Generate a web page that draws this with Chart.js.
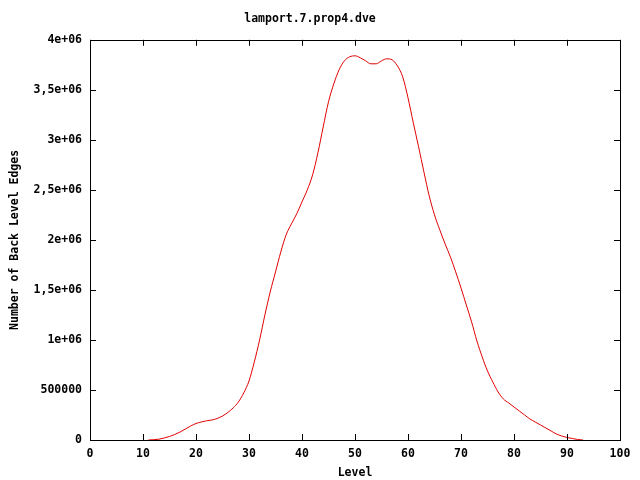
<!DOCTYPE html>
<html>
<head>
<meta charset="utf-8">
<script src="https://cdn.jsdelivr.net/npm/chart.js@4/dist/chart.umd.min.js"></script>
<style>
html,body{margin:0;padding:0;background:#fff;}
#wrap{width:640px;height:480px;}
</style>
</head>
<body>
<div id="wrap"><canvas id="c" width="640" height="480"></canvas></div>
<script>
const chartTitle = "lamport.7.prop4.dve";
const xTitle = "Level";
const yTitle = "Number of Back Level Edges";
const levels = [11,12,13,14,15,16,17,18,19,20,21,22,23,24,25,26,27,28,29,30,31,32,33,34,35,36,37,38,39,40,41,42,43,44,45,46,47,48,49,50,51,52,53,54,55,56,57,58,59,60,61,62,63,64,65,66,67,68,69,70,71,72,73,74,75,76,77,78,79,80,81,82,83,84,85,86,87,88,89,90,91,92,93];
const edges = [0,3000,8000,20000,35000,55000,80000,110000,140000,165000,180000,192000,200000,215000,240000,275000,320000,380000,470000,590000,780000,1000000,1250000,1480000,1680000,1880000,2050000,2160000,2260000,2380000,2500000,2650000,2870000,3130000,3380000,3560000,3700000,3790000,3830000,3840000,3820000,3790000,3760000,3760000,3790000,3810000,3800000,3740000,3630000,3420000,3170000,2930000,2680000,2440000,2250000,2100000,1960000,1830000,1680000,1520000,1350000,1180000,990000,830000,690000,580000,480000,410000,370000,330000,290000,250000,210000,180000,150000,120000,90000,60000,40000,25000,15000,5000,0];
const xTickValues = [0,10,20,30,40,50,60,70,80,90,100];
const yTickLabels = ["0","500000","1e+06","1,5e+06","2e+06","2,5e+06","3e+06","3,5e+06","4e+06"];

const FONT = "'DejaVu Sans Mono', 'Liberation Mono', monospace";

const frame = {
  id: 'frame',
  afterDatasetsDraw(chart) {
    const ctx = chart.ctx, a = chart.chartArea;
    const xs = chart.scales.x, ys = chart.scales.y;
    ctx.save();
    ctx.strokeStyle = '#000';
    ctx.lineWidth = 1;
    ctx.beginPath();
    const L = 6;
    xTickValues.forEach(v => {
      const px = Math.round(xs.getPixelForValue(v)) + 0.5;
      ctx.moveTo(px, a.bottom); ctx.lineTo(px, a.bottom - L);
      ctx.moveTo(px, a.top); ctx.lineTo(px, a.top + L);
    });
    yTickLabels.forEach((t, i) => {
      const py = Math.round(ys.getPixelForValue(i * 500000)) + 0.5;
      ctx.moveTo(a.left, py); ctx.lineTo(a.left + L, py);
      ctx.moveTo(a.right, py); ctx.lineTo(a.right - L, py);
    });
    ctx.stroke();
    ctx.strokeRect(Math.round(a.left) + 0.5, Math.round(a.top) + 0.5, Math.round(a.right - a.left), Math.round(a.bottom - a.top));
    ctx.restore();
  }
};

new Chart(document.getElementById('c'), {
  type: 'line',
  data: {
    datasets: [{
      data: levels.map((l, i) => ({x: l, y: edges[i]})),
      borderColor: 'rgb(225,0,0)',
      borderWidth: 1,
      pointRadius: 0,
      fill: false,
      cubicInterpolationMode: 'monotone'
    }]
  },
  options: {
    responsive: false,
    animation: false,
    layout: {padding: {top: 0, right: 20, left: 0, bottom: 0}},
    plugins: {
      legend: {display: false},
      tooltip: {enabled: false},
      title: {
        display: true,
        text: chartTitle,
        color: '#000',
        font: {family: FONT, size: 11.5, weight: 'bold'},
        padding: {top: 12, bottom: 14}
      }
    },
    scales: {
      x: {
        type: 'linear', min: 0, max: 100,
        afterBuildTicks: s => { s.ticks = xTickValues.map(v => ({value: v})); },
        afterFit: s => { s.height = 40; },
        grid: {display: false, drawTicks: false},
        border: {display: false},
        ticks: {color: '#000', font: {family: FONT, size: 11.5, weight: 'bold'}, padding: 7, maxRotation: 0, autoSkip: false, callback: v => String(v)},
        title: {display: true, text: xTitle, color: '#000', font: {family: FONT, size: 11.5, weight: 'bold'}, padding: {top: 5, bottom: 0}}
      },
      y: {
        type: 'linear', min: 0, max: 4000000,
        afterBuildTicks: s => { s.ticks = yTickLabels.map((t, i) => ({value: i * 500000})); },
        afterFit: s => { s.width = 90; },
        grid: {display: false, drawTicks: false},
        border: {display: false},
        ticks: {color: '#000', font: {family: FONT, size: 11.5, weight: 'bold'}, padding: 8, autoSkip: false,
          callback: (v) => yTickLabels[Math.round(v / 500000)]},
        title: {display: true, text: yTitle, color: '#000', font: {family: FONT, size: 11.5, weight: 'bold'}, padding: {top: 8, bottom: 0}}
      }
    }
  },
  plugins: [frame]
});
</script>
</body>
</html>
